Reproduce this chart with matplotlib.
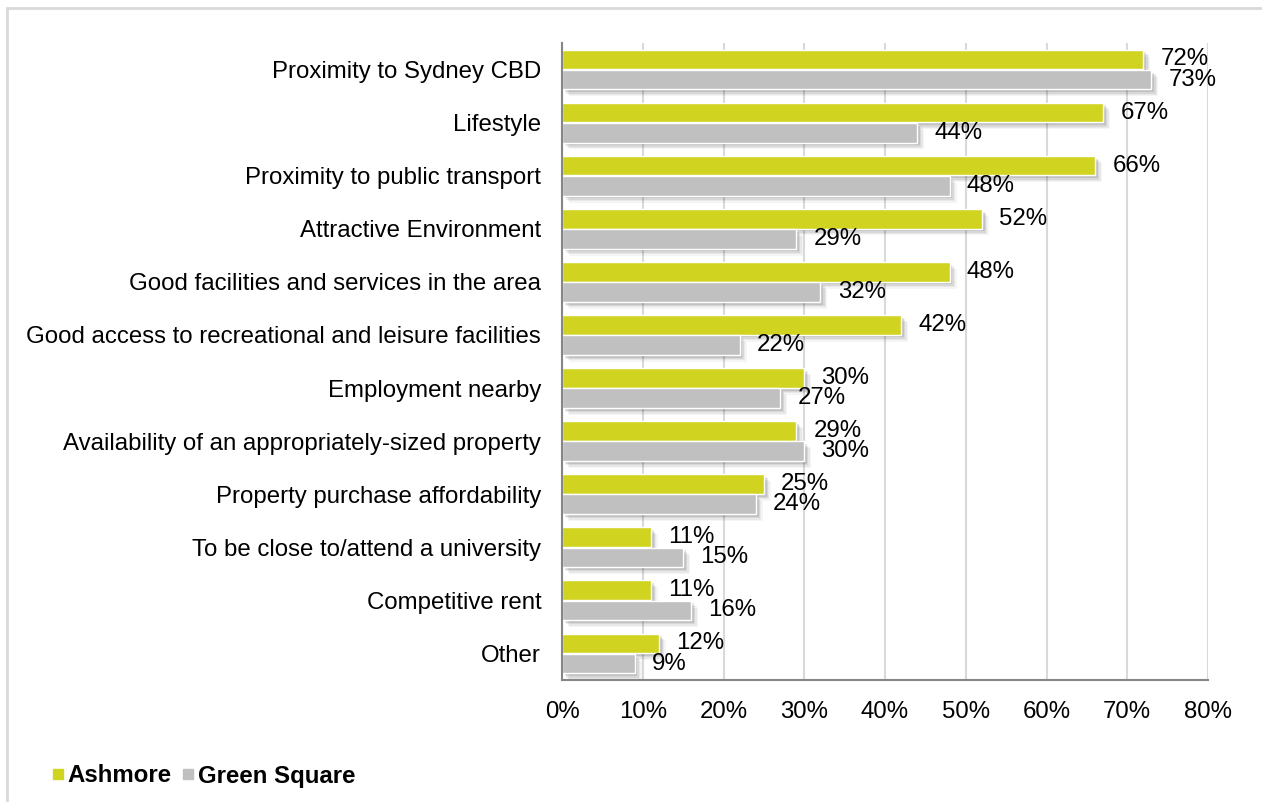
import numpy as np
import matplotlib
matplotlib.use("Agg")
import matplotlib.pyplot as plt
import matplotlib.patches as mpatches
import matplotlib.patheffects as pe
from matplotlib.lines import Line2D

plt.rcParams['font.family'] = ['Liberation Sans', 'DejaVu Sans']

categories = [
    "Proximity to Sydney CBD",
    "Lifestyle",
    "Proximity to public transport",
    "Attractive Environment",
    "Good facilities and services in the area",
    "Good access to recreational and leisure facilities",
    "Employment nearby",
    "Availability of an appropriately-sized property",
    "Property purchase affordability",
    "To be close to/attend a university",
    "Competitive rent",
    "Other",
]
ashmore = [72, 67, 66, 52, 48, 42, 30, 29, 25, 11, 11, 12]
green_square = [73, 44, 48, 29, 32, 22, 27, 30, 24, 15, 16, 9]
series_names = ["Ashmore", "Green Square"]
xticks = [0, 10, 20, 30, 40, 50, 60, 70, 80]

col_ash = "#D0D421"
col_gs = "#C0C0C0"
fs = 17.3

fig = plt.figure(figsize=(12.62, 8.02), dpi=100)
ax = fig.add_axes([562 / 1262, 1 - 680 / 802, (1208 - 562) / 1262, (680 - 43) / 802])

# soft drop shadow under each bar
shadow = [
    pe.SimplePatchShadow(offset=(5.0, -5.0), shadow_rgbFace="#000000", alpha=0.04),
    pe.SimplePatchShadow(offset=(4.0, -4.0), shadow_rgbFace="#000000", alpha=0.05),
    pe.SimplePatchShadow(offset=(3.0, -3.0), shadow_rgbFace="#000000", alpha=0.07),
    pe.SimplePatchShadow(offset=(2.0, -2.0), shadow_rgbFace="#000000", alpha=0.10),
    pe.Normal(),
]

y = np.arange(len(categories))
h = 0.37
off = 0.19
b1 = ax.barh(y - off, ashmore, height=h, color=col_ash, edgecolor="white",
             linewidth=1.0, zorder=3)
b2 = ax.barh(y + off, green_square, height=h, color=col_gs, edgecolor="white",
             linewidth=1.0, zorder=3)
for bar in list(b1) + list(b2):
    bar.set_path_effects(shadow)

for yy, v in zip(y - off, ashmore):
    ax.annotate(f"{v}%", (v, yy), xytext=(12.5, 0), textcoords="offset points",
                va="center", ha="left", fontsize=fs, zorder=5)
for yy, v in zip(y + off, green_square):
    ax.annotate(f"{v}%", (v, yy), xytext=(12.5, 0), textcoords="offset points",
                va="center", ha="left", fontsize=fs, zorder=5)

ax.set_xlim(0, 80)
ax.set_ylim(len(categories) - 0.5, -0.5)
ax.set_xticks(xticks)
ax.set_xticklabels([f"{t}%" for t in xticks])
ax.set_yticks(y)
ax.set_yticklabels(categories)
ax.tick_params(axis="both", length=0, labelsize=fs)
ax.tick_params(axis="y", pad=15)
ax.tick_params(axis="x", pad=15)

ax.grid(axis="x", color="#D9D9D9", linewidth=1.5, zorder=0)
ax.set_axisbelow(True)
for s in ["top", "right"]:
    ax.spines[s].set_visible(False)
for s in ["left", "bottom"]:
    ax.spines[s].set_color("#868686")
    ax.spines[s].set_linewidth(1.5)
    ax.spines[s].set_zorder(4)

handles = [
    Line2D([], [], marker="s", linestyle="none", markersize=7,
           markerfacecolor=col_ash, markeredgecolor=col_ash),
    Line2D([], [], marker="s", linestyle="none", markersize=7,
           markerfacecolor=col_gs, markeredgecolor=col_gs),
]
fig.legend(handles, series_names, loc="center left",
           bbox_to_anchor=(30 / 1262, 1 - 776 / 802), ncol=2, frameon=False,
           handlelength=0.5, handletextpad=0.15, columnspacing=0.45,
           prop={"weight": "bold", "size": fs})

# light chart frame
frame = mpatches.Rectangle((7 / 1262, -0.05), 1.1, 1 - 8 / 802 + 0.05,
                           transform=fig.transFigure, fill=False,
                           edgecolor="#D9D9D9", linewidth=2)
fig.add_artist(frame)

fig.savefig("out.png", dpi=100)
